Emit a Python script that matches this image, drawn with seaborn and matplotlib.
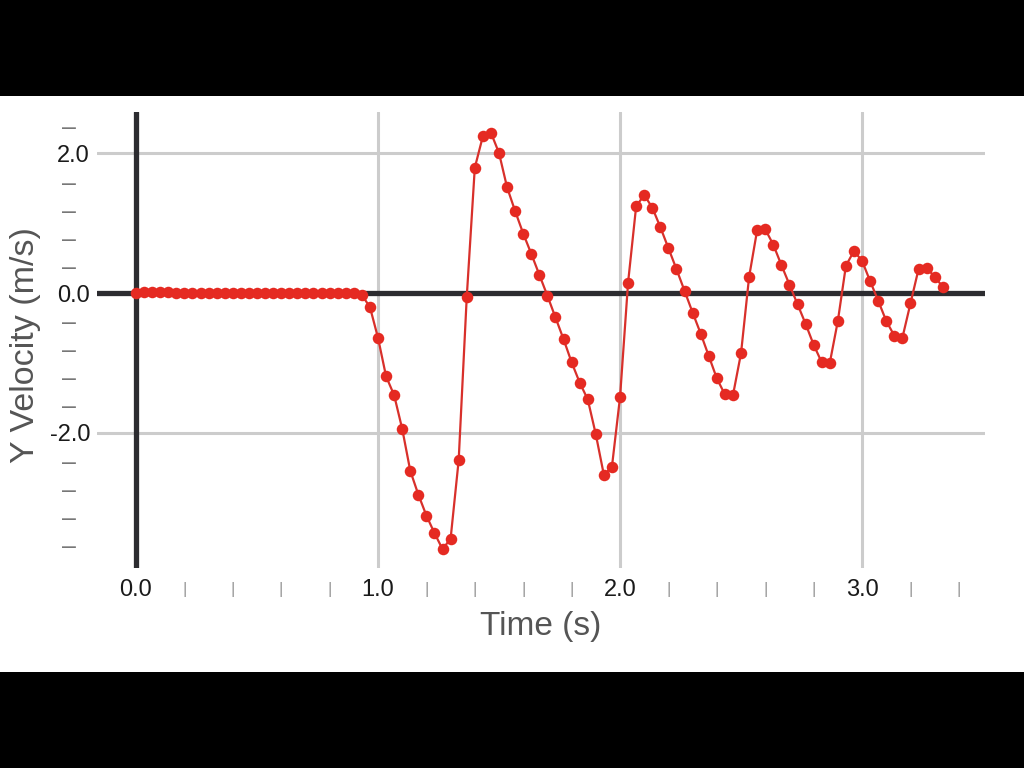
import numpy as np
import pandas as pd
import seaborn as sns
import matplotlib.pyplot as plt
from matplotlib.ticker import FixedLocator, FixedFormatter

# video tracked at 30 frames per second
frame_rate = 30

# y velocity (m/s) per frame
vy = [0.00, 0.01, 0.02, 0.01, 0.01, 0.00, 0.00, 0.00, 0.00, 0.00,
      0.00, 0.00, 0.00, 0.00, 0.00, 0.00, 0.00, 0.00, 0.00, 0.00,
      0.00, 0.00, 0.00, 0.00, 0.00, 0.00, 0.00, 0.00, -0.03, -0.20,
      -0.64, -1.19, -1.46, -1.94, -2.54, -2.88, -3.18, -3.43, -3.66, -3.51,
      -2.39, -0.06, 1.79, 2.24, 2.29, 2.00, 1.51, 1.17, 0.85, 0.56,
      0.26, -0.04, -0.35, -0.66, -0.99, -1.28, -1.52, -2.02, -2.60, -2.48,
      -1.49, 0.15, 1.24, 1.40, 1.22, 0.94, 0.64, 0.34, 0.03, -0.28,
      -0.58, -0.90, -1.22, -1.45, -1.46, -0.86, 0.23, 0.90, 0.91, 0.69,
      0.40, 0.12, -0.16, -0.44, -0.74, -0.99, -1.00, -0.40, 0.39, 0.60,
      0.46, 0.17, -0.11, -0.40, -0.61, -0.64, -0.15, 0.34, 0.36, 0.23,
      0.09]

df = pd.DataFrame({"frame": np.arange(len(vy)), "vy": vy})
df["time"] = df["frame"] / frame_rate

x_major = [0, 1, 2, 3]
x_major_labels = ["0.0", "1.0", "2.0", "3.0"]
x_minor = [0.2, 0.4, 0.6, 0.8, 1.2, 1.4, 1.6, 1.8, 2.2, 2.4, 2.6, 2.8, 3.2, 3.4]
y_major = [-2, 0, 2]
y_major_labels = ["-2.0", "0.0", "2.0"]
y_minor = [-3.6, -3.2, -2.8, -2.4, -1.6, -1.2, -0.8, -0.4, 0.4, 0.8, 1.2, 1.6, 2.4]

sns.set_style("white")
plt.rcParams["font.family"] = ["Liberation Sans", "DejaVu Sans"]

fig = plt.figure(figsize=(10.24, 7.68), dpi=100, facecolor="black")
# white screen area between the black bars
fig.add_artist(plt.Rectangle((0, 96 / 768), 1, 576 / 768, transform=fig.transFigure,
                             facecolor="white", edgecolor="none", zorder=0))
ax = fig.add_axes([97 / 1024, 1 - 568 / 768, 888 / 1024, 456 / 768])
ax.set_facecolor("none")

ax.axhline(0, color="#2c2c30", lw=3.8, zorder=2)
ax.axvline(0, color="#2c2c30", lw=3.8, zorder=2)

sns.lineplot(data=df, x="time", y="vy", ax=ax, color="#d8302b", lw=1.6,
             marker="o", markersize=8.3, markeredgewidth=0,
             markerfacecolor="#e52a22", zorder=3)

ax.set_xlim(-0.161, 3.508)
ax.set_ylim(-3.929, 2.586)

ax.xaxis.set_major_locator(FixedLocator(x_major))
ax.xaxis.set_major_formatter(FixedFormatter(x_major_labels))
ax.xaxis.set_minor_locator(FixedLocator(x_minor))
ax.xaxis.set_minor_formatter(FixedFormatter(["|"] * len(x_minor)))
ax.yaxis.set_major_locator(FixedLocator(y_major))
ax.yaxis.set_major_formatter(FixedFormatter(y_major_labels))
ax.yaxis.set_minor_locator(FixedLocator(y_minor))
ax.yaxis.set_minor_formatter(FixedFormatter(["\u2013"] * len(y_minor)))

ax.tick_params(axis="both", which="both", length=0)
ax.tick_params(axis="x", which="major", labelsize=17, pad=8, labelcolor="#1a1a1a")
ax.tick_params(axis="x", which="minor", labelsize=12, pad=10, labelcolor="#9a9a9a")
ax.tick_params(axis="y", which="major", labelsize=17, pad=5, labelcolor="#1a1a1a")
ax.tick_params(axis="y", which="minor", labelsize=18, pad=15, labelcolor="#777777")

ax.grid(True, which="major", color="#cccccc", lw=2.2, zorder=1)
for s in ax.spines.values():
    s.set_visible(False)

ax.set_xlabel("Time (s)", fontsize=24, color="#555555")
ax.set_ylabel("Y Velocity (m/s)", fontsize=24.5, color="#555555")
ax.xaxis.label.set_va("center")
ax.yaxis.label.set_va("center")
ax.xaxis.set_label_coords(0.5, -0.129)
ax.yaxis.set_label_coords(-0.080, 0.489)

fig.savefig("out.png", dpi=100, facecolor=fig.get_facecolor())
